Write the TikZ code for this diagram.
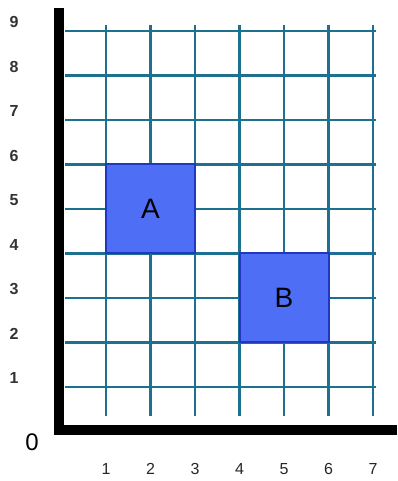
\documentclass[tikz,border=0pt]{standalone}
\usepackage{fontspec}
\setmainfont{Liberation Sans}
\definecolor{gridc}{HTML}{1E7090}
\definecolor{boxfill}{HTML}{4D6EF5}
\definecolor{boxedge}{HTML}{2038C0}
\tikzset{
  gridline/.style={draw=gridc, line width=2.6pt},
  axis/.style={draw=black, line width=10pt},
  ylab/.style={font=\fontsize{16}{16}\selectfont\bfseries, text=black!80},
  xlab/.style={font=\fontsize{16}{16}\selectfont, text=black!85},
  shapebox/.style={draw=boxedge, fill=boxfill, line width=2pt, minimum width=89pt, minimum height=89pt, inner sep=0pt, font=\fontsize{28}{28}\selectfont},
}
\begin{document}
\begin{tikzpicture}[x=1pt,y=-1pt]
\useasboundingbox (0,0) rectangle (397,481);
% grid
\foreach \k in {1,...,9} {
  \draw[gridline] (65,{31+(9-\k)*44.5}) -- (376,{31+(9-\k)*44.5});
  \node[ylab] (yl\k) at (14,{22+(9-\k)*44.5}) {\k};
}
\foreach \k in {1,...,7} {
  \draw[gridline] ({106+(\k-1)*44.5},25) -- ({106+(\k-1)*44.5},416);
  \node[xlab] (xl\k) at ({106+(\k-1)*44.5},469) {\k};
}
% boxes
\node[shapebox] (A) at (150.5,208.5) {A};
\node[shapebox] (B) at (284,297.5) {B};
% axes
\draw[axis] (59,8) -- (59,430) -- (397,430);
\node[font=\fontsize{24}{24}\selectfont] (zero) at (32,442) {0};
\end{tikzpicture}
\end{document}
